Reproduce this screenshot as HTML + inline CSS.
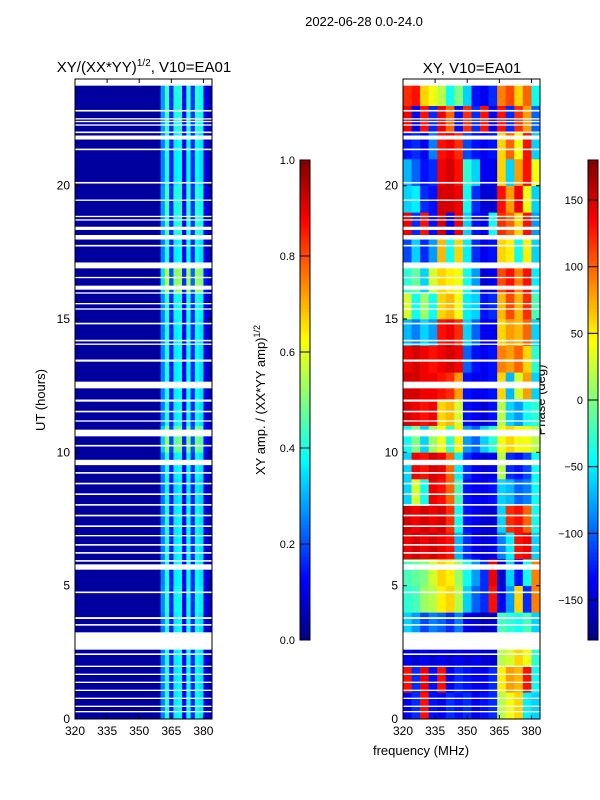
<!DOCTYPE html>
<html><head><meta charset="utf-8"><style>
body{margin:0;background:#fff;}
svg{display:block;font-family:"Liberation Sans","DejaVu Sans",sans-serif;}
</style></head><body>
<svg id="fig" width="600" height="800" xmlns="http://www.w3.org/2000/svg">
<text x="364" y="26" font-size="13" text-anchor="middle">2022-06-28 0.0-24.0</text>
<text x="144" y="72" font-size="15" text-anchor="middle">XY/(XX*YY)<tspan font-size="10" dy="-6">1/2</tspan><tspan dy="6">, V10=EA01</tspan></text>
<text x="472" y="73" font-size="15" text-anchor="middle">XY, V10=EA01</text>
<text transform="translate(45,400) rotate(-90)" font-size="13" text-anchor="middle">UT (hours)</text>
<text transform="translate(265,400) rotate(-90)" font-size="13" text-anchor="middle">XY amp. / (XX*YY amp)<tspan font-size="9" dy="-5">1/2</tspan></text>
<text transform="translate(545,400) rotate(-90)" font-size="13" text-anchor="middle">Phase (deg)</text>
<text x="421" y="755" font-size="13" text-anchor="middle">frequency (MHz)</text>
<g id="g"></g>
</svg>
<script>
const ns="http://www.w3.org/2000/svg";
const yTicks=[0,5,10,15,20];
const xTicks=[320,335,350,365,380];
const ampTicks=[0.0,0.2,0.4,0.6,0.8,1.0];
const phaseTicks=[-150,-100,-50,0,50,100,150];
const ampFreqEdges=[320,360,362,364,366,368,370,372,374,376,378,380,382,384];
const ampProfile=[0.03,0.25,0.4,0.15,0.36,0.38,0.12,0.38,0.16,0.38,0.35,0.1,0.05];
const ampHourly=[1,1,1,1,1.05,1,1,1,0.95,1,1.3,1,1,1,1,1.05,1.4,1,1.1,1.1,1,1,1.1,1.1];
const phaseFreqStep=4;
const phaseGrid=[
[-140,-120,130,-130,-140,-120,-130,-120,-140,-130,-120,20,40,60,-50,-60],
[130,-120,140,-130,130,-140,-120,-130,-140,-140,-120,50,80,70,130,-40],
[-140,-150,-140,-150,-140,-150,-140,-150,-140,-150,-150,20,30,60,40,-30],
[-60,-80,-110,-90,-100,-120,-90,-140,-150,-160,-150,-20,-30,-40,-20,-60],
[-30,-20,10,20,50,60,20,-60,-100,-120,130,-140,-80,60,-120,90],
[-20,-10,0,30,60,50,10,-40,-80,-120,140,-150,-60,-130,-40,90],
[140,150,140,150,140,130,-70,-120,-140,-150,-140,-90,-50,130,140,-60],
[150,140,150,140,150,120,-40,-130,-140,-150,-150,-60,120,130,100,-40],
[-60,30,-40,140,130,100,-20,-130,-140,-140,-130,-60,-70,-100,-90,-40],
[-60,140,130,150,140,100,-50,-120,-140,-150,-140,20,-120,-130,-110,-40],
[-40,0,-60,10,40,-30,50,-80,-100,-60,-30,40,60,40,40,20],
[150,140,130,140,60,70,30,-130,-140,-150,-130,20,-60,-80,-40,-30],
[150,150,140,140,130,120,80,-130,-140,-140,-130,60,-70,30,80,-60],
[140,150,140,130,140,150,140,-100,-130,-140,-130,90,80,100,60,-30],
[-70,-90,-60,-80,130,140,120,-60,-100,-140,-140,60,80,70,100,-60],
[30,-40,10,-40,60,70,40,-50,-60,-130,-120,70,110,70,120,-20],
[-30,-10,-60,30,60,50,40,-40,-80,-150,-140,110,130,90,130,-50],
[-110,-60,-120,-80,70,-40,60,-50,-120,-140,-130,60,50,-40,50,-60],
[140,-120,130,-130,150,-140,140,-60,-130,-140,-40,120,100,60,130,-80],
[-60,-50,-120,-130,150,150,140,-40,-120,-150,-150,130,80,140,40,-60],
[-70,-100,-130,-120,140,150,130,-30,-60,-140,-140,60,-60,80,130,40],
[-130,-120,-140,-90,130,140,120,-110,-130,-140,-130,60,100,40,130,-60],
[140,-140,130,-120,140,100,-130,120,-120,130,-140,130,-120,120,80,-100],
[120,130,60,40,20,-40,0,-60,-130,-140,-120,90,110,60,100,-40]];
const gaps=[[23.75,24],[22.78,22.84],[22.48,22.53],[22.38,22.43],[22.25,22.3],[21.97,22.03],[21.73,21.88],[21.33,21.39],[20.08,20.14],[19.43,19.48],[18.82,18.87],[18.69,18.74],[18.34,18.46],[17.98,18.15],[17.72,17.78],[16.9,17.12],[16.53,16.58],[16.1,16.25],[15.95,16.0],[15.55,15.6],[15.35,15.4],[14.8,14.86],[14.16,14.22],[14.03,14.08],[13.4,13.48],[12.4,12.65],[11.9,11.98],[11.5,11.56],[11.15,11.2],[10.6,10.85],[10.22,10.28],[9.52,9.72],[9.2,9.26],[8.8,8.86],[8.4,8.46],[8.0,8.06],[7.6,7.66],[7.2,7.26],[6.85,6.9],[6.5,6.56],[6.2,6.26],[5.9,5.96],[5.6,5.8],[4.72,4.78],[3.75,3.82],[3.5,3.56],[2.6,3.25],[2.4,2.46],[1.95,2.0],[1.65,1.7],[1.35,1.4],[1.05,1.1],[0.75,0.8],[0.45,0.5],[0.25,0.3]];

const g=document.getElementById('g');
function el(t,a,p){const e=document.createElementNS(ns,t);for(const k in a)e.setAttribute(k,a[k]);(p||g).appendChild(e);return e;}
function cl(v){return Math.max(0,Math.min(1,v));}
function jet(v){v=cl(v);const r=cl(1.5-Math.abs(4*v-3)),gg=cl(1.5-Math.abs(4*v-2)),b=cl(1.5-Math.abs(4*v-1));return `rgb(${Math.round(r*255)},${Math.round(gg*255)},${Math.round(b*255)})`;}
const Y0=719,Y1=79;
function yS(t){return Y0-(t/24)*(Y0-Y1);}
function xS(x0,f){return x0+(f-320)/64*137;}
const panels=[{x0:75,name:'amp'},{x0:403,name:'phase'}];

for(let h=0;h<24;h++){
  for(let c=0;c<ampProfile.length;c++){
    const v=c===0?ampProfile[c]:Math.min(1,ampProfile[c]*ampHourly[h]);
    const x=xS(75,ampFreqEdges[c]),x2=xS(75,ampFreqEdges[c+1]);
    const r=el('rect',{x:x,y:yS(h+1),width:x2-x+0.3,height:yS(h)-yS(h+1)+0.3,fill:jet(v)});
    
    
  }
}
for(let h=0;h<24;h++){
  for(let c=0;c<16;c++){
    const v=(phaseGrid[h][c]+180)/360;
    const x=xS(403,320+c*phaseFreqStep),x2=xS(403,320+(c+1)*phaseFreqStep);
    const r=el('rect',{x:x,y:yS(h+1),width:x2-x+0.3,height:yS(h)-yS(h+1)+0.3,fill:jet(v)});
    
    
  }
}
panels.forEach(p=>{
  gaps.forEach(gp=>{
    const r=el('rect',{x:p.x0,y:yS(gp[1]),width:137,height:Math.max(1,yS(gp[0])-yS(gp[1])),fill:'#fff'});
    
    
  });
  const f=el('rect',{x:p.x0,y:Y1,width:137,height:Y0-Y1,fill:'none',stroke:'#000','stroke-width':1});
  
  
  yTicks.forEach(t=>{
    const y=yS(t);
    el('line',{x1:p.x0,x2:p.x0+4,y1:y,y2:y,stroke:'#000'});
    el('line',{x1:p.x0+137,x2:p.x0+133,y1:y,y2:y,stroke:'#000'});
    const tx=el('text',{x:p.x0-5,y:y+4,'font-size':12,'text-anchor':'end'});
    tx.textContent=t;
    
    
  });
  xTicks.forEach(t=>{
    const x=xS(p.x0,t);
    el('line',{x1:x,x2:x,y1:Y0,y2:Y0-4,stroke:'#000'});
    el('line',{x1:x,x2:x,y1:Y1,y2:Y1+4,stroke:'#000'});
    const tx=el('text',{x:x,y:Y0+16,'font-size':12,'text-anchor':'middle'});
    tx.textContent=t;
    
    
  });
});
function colorbar(x,ticks,lo,hi,name,fmt){
  const top=160,bot=640,n=120;
  for(let i=0;i<n;i++){
    el('rect',{x:x,y:bot-(i+1)*(bot-top)/n,width:10,height:(bot-top)/n+0.5,fill:jet((i+0.5)/n)});
  }
  const f=el('rect',{x:x,y:top,width:10,height:bot-top,fill:'none',stroke:'#000'});
  
  
  ticks.forEach(t=>{
    const y=bot-(t-lo)/(hi-lo)*(bot-top);
    el('line',{x1:x,x2:x+10,y1:y,y2:y,stroke:'#000'});
    const tx=el('text',{x:x-5,y:y+4,'font-size':11,'text-anchor':'end'});
    tx.textContent=fmt(t);
    
    
  });
}
colorbar(300,ampTicks,0,1,'amp-colorbar',t=>t.toFixed(1));
colorbar(588,phaseTicks,-180,180,'phase-colorbar',t=>t<0?'\u2212'+(-t):String(t));
</script>
</body></html>
